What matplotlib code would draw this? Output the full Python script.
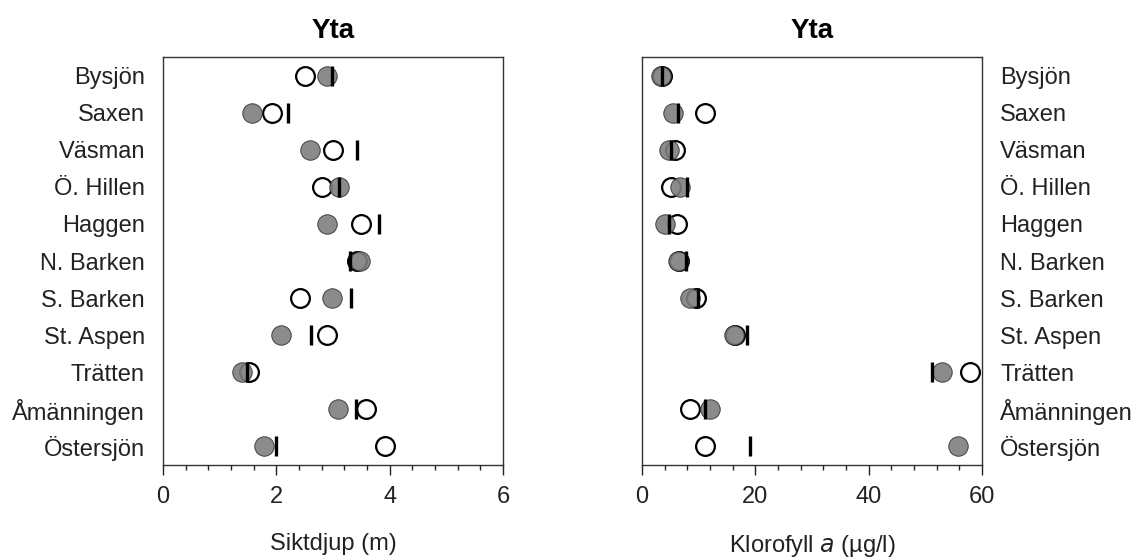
import matplotlib.pyplot as plt
from matplotlib.ticker import MultipleLocator

plt.rcParams["font.family"] = ["Liberation Sans", "DejaVu Sans"]

lakes = ["Bysjön", "Saxen", "Väsman", "Ö. Hillen", "Haggen", "N. Barken",
         "S. Barken", "St. Aspen", "Trätten", "Åmänningen", "Östersjön"]

# Siktdjup (m)
sikt_filled = [2.89, 1.58, 2.59, 3.11, 2.89, 3.48, 2.99, 2.09, 1.39, 3.09, 1.79]
sikt_open = [2.51, 1.92, 3.00, 2.81, 3.50, 3.42, 2.41, 2.90, 1.51, 3.59, 3.92]
sikt_line = [2.99, 2.20, 3.42, 3.11, 3.81, 3.30, 3.31, 2.61, 1.49, 3.41, 2.00]

# Klorofyll a (ug/l)
klor_filled = [3.3, 5.4, 4.7, 6.7, 4.1, 6.3, 8.5, 16.2, 52.9, 12.0, 55.7]
klor_open = [3.5, 11.2, 5.9, 5.1, 6.1, 6.5, 9.5, 16.4, 57.9, 8.4, 11.1]
klor_line = [3.5, 6.3, 5.2, 7.9, 4.8, 7.7, 9.9, 18.5, 51.2, 11.1, 19.1]

fig = plt.figure(figsize=(11.46, 5.58), dpi=100)
ax1 = fig.add_axes([0.1422, 0.1667, 0.2967, 0.7310])
ax2 = fig.add_axes([0.5602, 0.1667, 0.2967, 0.7310])

ypos = list(range(len(lakes)))
panels = [
    (ax1, sikt_filled, sikt_open, sikt_line, 6, 2, 0.4, "Siktdjup (m)"),
    (ax2, klor_filled, klor_open, klor_line, 60, 20, 4, "Klorofyll $\\mathit{a}$ (µg/l)"),
]
for ax, filled, opn, line, xmax, major, minor, xlabel in panels:
    ax.plot(opn, ypos, "o", ls="none", ms=13.5, mfc="none", mec="black", mew=1.6, zorder=3)
    ax.plot(filled, ypos, "o", ls="none", ms=14, mfc="#7f7f7f", mec="#333333", mew=0.7,
            alpha=0.9, zorder=4)
    ax.plot(line, ypos, "|", ls="none", ms=15, mec="black", mew=2.4, zorder=5)
    ax.set_xlim(0, xmax)
    ax.set_ylim(len(lakes) - 0.5, -0.5)
    ax.set_yticks(ypos)
    ax.set_yticklabels(lakes)
    ax.xaxis.set_major_locator(MultipleLocator(major))
    ax.xaxis.set_minor_locator(MultipleLocator(minor))
    ax.tick_params(axis="x", which="major", direction="out", length=7, width=1,
                   labelsize=17, pad=8, colors="#222222")
    ax.tick_params(axis="x", which="minor", direction="out", length=3.5, width=1, colors="#222222")
    ax.tick_params(axis="y", length=0, labelsize=17, pad=13, labelcolor="#222222")
    for sp in ax.spines.values():
        sp.set_color("#333333")
        sp.set_linewidth(1)
    ax.set_xlabel(xlabel, fontsize=17, labelpad=18, color="#222222")
    ax.set_title("Yta", fontsize=20, fontweight="bold", pad=14)

ax2.yaxis.tick_right()
ax2.yaxis.set_label_position("right")

fig.savefig("out.png", dpi=100)
